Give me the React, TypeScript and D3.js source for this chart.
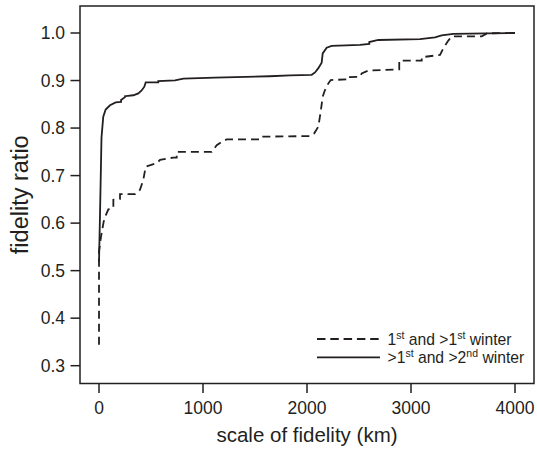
import React from "react";
import * as d3 from "d3";

// Solid: ">1st and >2nd winter"  [km, ratio]
const seriesLater: [number, number][] = [
  [0, 0.519], [8, 0.6], [17, 0.7], [24, 0.78], [41, 0.824], [64, 0.839], [106, 0.848],
  [160, 0.854], [212, 0.855], [212, 0.859], [250, 0.865], [250, 0.867], [330, 0.869],
  [378, 0.873], [410, 0.879], [436, 0.887], [449, 0.896], [570, 0.896], [570, 0.899],
  [731, 0.9005], [811, 0.904], [1115, 0.906], [1640, 0.909], [1837, 0.911], [2045, 0.912],
  [2077, 0.917], [2109, 0.926], [2141, 0.9375], [2151, 0.957], [2189, 0.969], [2237, 0.9727],
  [2510, 0.975], [2599, 0.977], [2599, 0.981], [2686, 0.9853], [3087, 0.987], [3231, 0.991],
  [3295, 0.995], [3407, 0.998], [3728, 0.9993], [4000, 1.0],
];

// Dashed: "1st and >1st winter"  [km, ratio]
const seriesFirst: [number, number][] = [
  [0, 0.344], [0, 0.54], [19, 0.571], [45, 0.603], [66, 0.617], [90, 0.629], [110, 0.63],
  [138, 0.632], [138, 0.649], [202, 0.651], [202, 0.661], [346, 0.661], [394, 0.67],
  [426, 0.691], [449, 0.719], [555, 0.726], [587, 0.733], [714, 0.738], [747, 0.738],
  [747, 0.75], [1084, 0.75], [1132, 0.764], [1195, 0.773], [1228, 0.776], [1548, 0.776],
  [1564, 0.782], [2030, 0.783], [2070, 0.789], [2109, 0.803], [2132, 0.835], [2151, 0.866],
  [2173, 0.88], [2205, 0.894], [2228, 0.901], [2413, 0.9026], [2413, 0.907], [2510, 0.908],
  [2526, 0.915], [2589, 0.921], [2887, 0.9236], [2887, 0.942], [3103, 0.942], [3103, 0.949],
  [3279, 0.954], [3311, 0.968], [3359, 0.984], [3391, 0.993], [3680, 0.993], [3721, 0.998],
  [3728, 0.9993], [4000, 1.0],
];

const xTicks = [0, 1000, 2000, 3000, 4000];
const yTicks = [0.3, 0.4, 0.5, 0.6, 0.7, 0.8, 0.9, 1.0];

const W = 537;
const H = 449;
const INK = "#231f20";
const FONT = "'Liberation Sans', Arial, Helvetica, sans-serif";

export default function App() {
  const x = d3.scaleLinear().domain([0, 4000]).range([99, 515]);
  const y = d3.scaleLinear().domain([0.3, 1.0]).range([365.7, 33]);
  const box = { left: 80, right: 534, top: 6, bottom: 383.5 };
  const line = d3
    .line<[number, number]>()
    .x((d) => x(d[0]))
    .y((d) => y(d[1]));

  const tickLen = 9.5;

  return (
    <div style={{ position: "absolute", left: 0, top: 0 }}>
      <svg width={W} height={H} style={{ display: "block", background: "#fff" }} fontFamily={FONT}>
        <rect
          x={box.left}
          y={box.top}
          width={box.right - box.left}
          height={box.bottom - box.top}
          fill="none"
          stroke={INK}
          strokeWidth={1.5}
        />
        {yTicks.map((t) => (
          <g key={"y" + t}>
            <line x1={box.left - tickLen} x2={box.left} y1={y(t)} y2={y(t)} stroke={INK} strokeWidth={1.5} />
            <text x={65} y={y(t)} dy="0.35em" textAnchor="end" fontSize={17.5} fill={INK}>
              {t.toFixed(1)}
            </text>
          </g>
        ))}
        {xTicks.map((t) => (
          <g key={"x" + t}>
            <line x1={x(t)} x2={x(t)} y1={box.bottom} y2={box.bottom + tickLen} stroke={INK} strokeWidth={1.5} />
            <text x={x(t)} y={414} textAnchor="middle" fontSize={17.5} fill={INK}>
              {t}
            </text>
          </g>
        ))}
        <text x={(box.left + box.right) / 2} y={442} textAnchor="middle" fontSize={20.5} fill={INK}>
          scale of fidelity (km)
        </text>
        <text
          transform={`translate(28,${(box.top + box.bottom) / 2}) rotate(-90)`}
          textAnchor="middle"
          fontSize={23.5}
          fill={INK}
        >
          fidelity ratio
        </text>

        <path d={line(seriesFirst) || ""} fill="none" stroke={INK} strokeWidth={1.8} strokeDasharray="8,5" />
        <path d={line(seriesLater) || ""} fill="none" stroke={INK} strokeWidth={1.8} />

        {/* legend */}
        <line x1={317} x2={380} y1={339} y2={339} stroke={INK} strokeWidth={1.8} strokeDasharray="8.5,4.8" />
        <line x1={317} x2={380} y1={357.3} y2={357.3} stroke={INK} strokeWidth={1.8} />
        <text x={387.5} y={344.8} fontSize={15.7} fill={INK}>
          1<tspan fontSize={10.5} dy={-6}>st</tspan>
          <tspan dy={6}> and &gt;1</tspan>
          <tspan fontSize={10.5} dy={-6}>st</tspan>
          <tspan dy={6}> winter</tspan>
        </text>
        <text x={387.5} y={363.1} fontSize={15.7} fill={INK}>
          &gt;1<tspan fontSize={10.5} dy={-6}>st</tspan>
          <tspan dy={6}> and &gt;2</tspan>
          <tspan fontSize={10.5} dy={-6}>nd</tspan>
          <tspan dy={6}> winter</tspan>
        </text>
      </svg>
    </div>
  );
}
